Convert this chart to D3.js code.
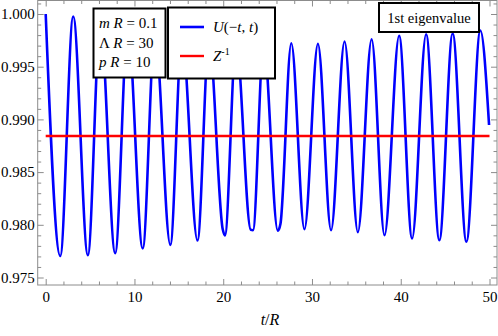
<!DOCTYPE html>
<html>
<head>
<meta charset="utf-8">
<script src="https://cdn.jsdelivr.net/npm/d3@7"></script>
<style>
  body { margin: 0; background: #fff; }
  svg { display: block; font-family: "Liberation Serif", "DejaVu Serif", serif; }
</style>
</head>
<body>
<div id="chart"></div>
<script>
// time values t/R and U(-t,t) (peaks and troughs)
var tVals = [0.00, 1.64, 3.10, 4.75, 6.15, 7.83, 9.25, 10.93, 12.30, 14.04,
             15.35, 17.10, 18.40, 19.95, 20.19, 21.45, 23.10, 23.35, 24.55, 26.15,
             26.45, 27.67, 29.15, 30.67, 32.15, 33.67, 35.17, 36.72, 38.17, 39.82,
             41.28, 42.86, 44.35, 45.85, 47.40, 48.97, 49.95];
var uVals = [1.00000, 0.97704, 0.99976, 0.97712, 0.99930, 0.97731, 0.99880, 0.97775, 0.99830, 0.97810,
             0.99790, 0.97851, 0.99760, 0.97955, 0.97898, 0.99740, 0.97952, 0.97949, 0.99725, 0.97943,
             0.98010, 0.99723, 0.97958, 0.99717, 0.97949, 0.99739, 0.97930, 0.99761, 0.97901, 0.99793,
             0.97870, 0.99808, 0.97854, 0.99815, 0.97839, 0.99843, 0.98947];
var zInv = 0.98843;           // Z^-1 level
var zRange = [0, 50];

var xMajor = [0, 10, 20, 30, 40, 50];
var xMinor = [2, 4, 6, 8, 12, 14, 16, 18, 22, 24, 26, 28, 32, 34, 36, 38, 42, 44, 46, 48];
var yMajor = [0.975, 0.980, 0.985, 0.990, 0.995, 1.000];
var yMinor = [0.976, 0.977, 0.978, 0.979, 0.981, 0.982, 0.983, 0.984, 0.986, 0.987, 0.988, 0.989,
              0.991, 0.992, 0.993, 0.994, 0.996, 0.997, 0.998, 0.999, 1.001];

var width = 498, height = 336;
var frame = { left: 37.7, right: 497, top: 0.5, bottom: 285 };

var svg = d3.select("#chart").append("svg")
    .attr("width", width)
    .attr("height", height);

var x = d3.scaleLinear().domain([0, 50]).range([45.7, 489.5]);
var y = d3.scaleLinear().domain([0.975, 1.000]).range([277.5, 14]);

var frameColor = "#8c8c8c";

// frame
svg.append("rect")
    .attr("x", frame.left).attr("y", frame.top)
    .attr("width", frame.right - frame.left).attr("height", frame.bottom - frame.top)
    .attr("fill", "none").attr("stroke", frameColor).attr("stroke-width", 1);

function styleAxis(g) {
  g.select(".domain").remove();
  g.selectAll("line").attr("stroke", frameColor);
  g.selectAll("text").attr("fill", "#000").style("font-size", "15px")
    .style("font-family", "'Liberation Serif', serif");
}

// bottom / top
svg.append("g").attr("transform", "translate(0," + frame.bottom + ")")
  .call(d3.axisBottom(x).tickValues(xMajor).tickSize(-6).tickPadding(6.5).tickFormat(d3.format("d")))
  .call(styleAxis);
svg.append("g").attr("transform", "translate(0," + frame.bottom + ")")
  .call(d3.axisBottom(x).tickValues(xMinor).tickSize(-3.5).tickFormat(""))
  .call(styleAxis);
svg.append("g").attr("transform", "translate(0," + frame.top + ")")
  .call(d3.axisTop(x).tickValues(xMajor).tickSize(-6).tickFormat(""))
  .call(styleAxis);
svg.append("g").attr("transform", "translate(0," + frame.top + ")")
  .call(d3.axisTop(x).tickValues(xMinor).tickSize(-3.5).tickFormat(""))
  .call(styleAxis);

// left / right
svg.append("g").attr("transform", "translate(" + frame.left + ",0)")
  .call(d3.axisLeft(y).tickValues(yMajor).tickSize(-6).tickPadding(3).tickFormat(d3.format(".3f")))
  .call(styleAxis);
svg.append("g").attr("transform", "translate(" + frame.left + ",0)")
  .call(d3.axisLeft(y).tickValues(yMinor).tickSize(-3.5).tickFormat(""))
  .call(styleAxis);
svg.append("g").attr("transform", "translate(" + frame.right + ",0)")
  .call(d3.axisRight(y).tickValues(yMajor).tickSize(-6).tickFormat(""))
  .call(styleAxis);
svg.append("g").attr("transform", "translate(" + frame.right + ",0)")
  .call(d3.axisRight(y).tickValues(yMinor).tickSize(-3.5).tickFormat(""))
  .call(styleAxis);

// data lines
var pts = tVals.map(function(t, i) { return [t, uVals[i]]; });
var line = d3.line()
    .x(function(d) { return x(d[0]); })
    .y(function(d) { return y(d[1]); })
    .curve(d3.curveMonotoneX);

svg.append("path")
    .datum(pts)
    .attr("d", line)
    .attr("fill", "none")
    .attr("stroke", "#0000ff")
    .attr("stroke-width", 2.6)
    .attr("stroke-linejoin", "round");

svg.append("path")
    .datum(zRange.map(function(t) { return [t, zInv]; }))
    .attr("d", d3.line().x(function(d) { return x(d[0]); }).y(function(d) { return y(d[1]); }))
    .attr("stroke", "#ff0000")
    .attr("stroke-width", 2.4);

// x axis label
var xl = svg.append("text")
    .attr("x", 270).attr("y", 325)
    .attr("text-anchor", "middle")
    .style("font-size", "16px");
xl.append("tspan").style("font-style", "italic").text("t");
xl.append("tspan").text("/");
xl.append("tspan").style("font-style", "italic").text("R");

// parameter box
function box(x0, y0, w, h) {
  svg.append("rect")
    .attr("x", x0).attr("y", y0).attr("width", w).attr("height", h)
    .attr("fill", "#fff").attr("stroke", "#000").attr("stroke-width", 2);
}

box(93.5, 8.5, 72, 69);
var params = [["m", "R", " = 0.1"], ["Λ", "R", " = 30"], ["p", "R", " = 10"]];
params.forEach(function(p, i) {
  var t = svg.append("text").attr("x", 99).attr("y", 28 + i * 19.5).style("font-size", "15px");
  t.append("tspan").style("font-style", p[0] === "Λ" ? "normal" : "italic").text(p[0]);
  t.append("tspan").text(" ");
  t.append("tspan").style("font-style", "italic").text(p[1]);
  t.append("tspan").text(p[2]);
});

// legend box
box(168, 7.5, 107, 71);
svg.append("line").attr("x1", 180).attr("x2", 204).attr("y1", 27).attr("y2", 27)
  .attr("stroke", "#0000ff").attr("stroke-width", 2.6);
svg.append("line").attr("x1", 180).attr("x2", 204).attr("y1", 56).attr("y2", 56)
  .attr("stroke", "#ff0000").attr("stroke-width", 2.4);
var l1 = svg.append("text").attr("x", 213).attr("y", 32).style("font-size", "15px");
l1.append("tspan").style("font-style", "italic").text("U");
l1.append("tspan").text("(−");
l1.append("tspan").style("font-style", "italic").text("t");
l1.append("tspan").text(", ");
l1.append("tspan").style("font-style", "italic").text("t");
l1.append("tspan").text(")");
var l2 = svg.append("text").attr("x", 213).attr("y", 61).style("font-size", "15px");
l2.append("tspan").style("font-style", "italic").text("Z");
l2.append("tspan").attr("dy", -6).style("font-size", "10px").text("-1");

// eigenvalue box
box(379, 3, 100, 29);
svg.append("text").attr("x", 429).attr("y", 22.5).attr("text-anchor", "middle")
  .style("font-size", "14.5px").text("1st eigenvalue");
</script>
</body>
</html>
